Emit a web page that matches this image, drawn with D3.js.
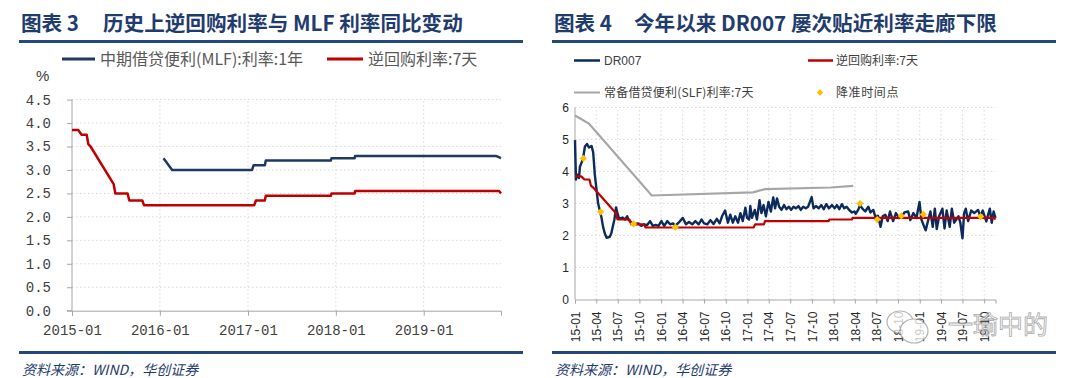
<!DOCTYPE html>
<html>
<head>
<meta charset="utf-8">
<script src="https://cdn.jsdelivr.net/npm/d3@7"></script>
<style>
  body { margin: 0; background: #fff; }
  svg { display: block; font-family: "Noto Sans CJK SC", "Noto Sans", sans-serif; }
</style>
</head>
<body>
<svg id="chart" width="1080" height="378"></svg>
<script>
// ---- data ----
const repoDates = ["2015-01-01","2015-01-27","2015-02-03","2015-02-10","2015-03-03","2015-03-10","2015-03-19","2015-06-23","2015-06-30","2015-08-20","2015-08-27","2015-10-20","2015-10-27","2017-01-27","2017-02-03","2017-03-12","2017-03-16","2017-12-11","2017-12-14","2018-03-20","2018-03-22","2019-11-10","2019-11-18"];
const repoValues = [3.85,3.85,3.80,3.75,3.75,3.55,3.50,2.70,2.50,2.50,2.35,2.35,2.25,2.25,2.35,2.35,2.45,2.45,2.50,2.50,2.55,2.55,2.50];

const mlfDates = ["2016-01-16","2016-02-21","2017-01-18","2017-01-24","2017-03-12","2017-03-16","2017-12-11","2017-12-14","2018-03-20","2018-03-22","2019-10-28","2019-11-18"];
const mlfValues = [3.25,3.00,3.00,3.10,3.10,3.20,3.20,3.25,3.25,3.30,3.30,3.25];

const slfDates = ["2015-01-01","2015-03-01","2015-11-22","2017-01-24","2017-03-16","2017-12-20","2018-03-25"];
const slfValues = [5.75,5.50,3.25,3.35,3.45,3.50,3.55];

const dr007Dates = [
  "2015-01-01","2015-01-05","2015-01-11","2015-01-18","2015-01-22","2015-01-30","2015-02-05","2015-02-12","2015-02-21","2015-03-01","2015-03-12","2015-03-19","2015-03-26","2015-04-09","2015-04-23","2015-04-30","2015-05-07","2015-05-15","2015-05-28","2015-06-04","2015-06-10","2015-06-17","2015-06-24","2015-06-30","2015-07-07","2015-07-21","2015-08-01","2015-08-10","2015-08-17","2015-08-29","2015-09-13","2015-09-26","2015-10-09","2015-10-21","2015-11-02","2015-11-15","2015-11-27","2015-12-09","2015-12-21",
  "2016-01-02","2016-01-14","2016-01-27","2016-02-08","2016-02-20","2016-03-01","2016-03-15","2016-04-02","2016-04-15","2016-04-28","2016-05-12","2016-05-25","2016-06-08","2016-06-20","2016-07-01","2016-07-15","2016-07-28","2016-08-10","2016-08-24","2016-09-05","2016-09-15","2016-09-28","2016-10-10","2016-10-20","2016-10-31","2016-11-10","2016-11-22","2016-12-02","2016-12-12","2016-12-23","2016-12-30",
  "2017-01-08","2017-01-13","2017-01-20","2017-02-01","2017-02-10","2017-02-21","2017-03-01","2017-03-10","2017-03-20","2017-03-31","2017-04-10","2017-04-20","2017-04-28","2017-05-06","2017-05-15","2017-05-25","2017-06-05","2017-06-15","2017-06-25","2017-07-05","2017-07-15","2017-07-25","2017-08-05","2017-08-15","2017-08-25","2017-09-05","2017-09-15","2017-09-30","2017-10-08","2017-10-18","2017-10-30","2017-11-10","2017-11-20","2017-12-01","2017-12-12","2017-12-25",
  "2018-01-05","2018-01-15","2018-01-25","2018-02-05","2018-02-15","2018-02-25","2018-03-10","2018-03-20","2018-03-30","2018-04-05","2018-04-15","2018-04-23","2018-05-02","2018-05-15","2018-05-28","2018-06-06","2018-06-18","2018-06-28","2018-07-08","2018-07-19","2018-07-28","2018-08-08","2018-08-18","2018-08-28","2018-09-10","2018-09-22","2018-10-05","2018-10-17","2018-10-28","2018-11-13","2018-11-22","2018-12-05","2018-12-18","2018-12-31",
  "2019-01-08","2019-01-20","2019-01-26","2019-02-15","2019-02-25","2019-03-06","2019-03-14","2019-03-24","2019-04-07","2019-04-16","2019-04-25","2019-05-08","2019-05-17","2019-05-27","2019-06-14","2019-06-22","2019-07-01","2019-07-08","2019-07-15","2019-07-25","2019-08-07","2019-08-20","2019-09-05","2019-09-15","2019-09-25","2019-10-10","2019-10-25","2019-11-02","2019-11-10","2019-11-18"
];
const dr007Values = [
  4.98,3.75,3.90,3.80,4.15,4.30,4.45,4.78,4.86,4.75,4.80,4.60,3.90,3.00,2.57,2.27,2.07,1.93,1.96,2.07,2.27,2.50,2.88,2.69,2.53,2.56,2.50,2.60,2.48,2.40,2.36,2.38,2.30,2.35,2.32,2.45,2.30,2.33,2.30,
  2.45,2.30,2.45,2.35,2.38,2.30,2.40,2.55,2.35,2.42,2.35,2.45,2.35,2.50,2.38,2.35,2.48,2.36,2.52,2.38,2.60,2.78,2.40,2.65,2.40,2.60,2.40,2.70,2.45,2.87,2.55,
  2.50,2.92,2.55,2.80,2.50,3.10,2.70,2.95,2.60,3.05,2.75,3.19,2.85,3.16,2.90,2.80,2.95,2.82,2.90,2.80,2.90,2.85,2.92,2.80,2.90,2.85,2.90,3.20,2.85,2.92,2.85,2.95,2.82,2.98,2.85,2.95,
  2.85,2.95,2.82,2.98,2.85,2.90,2.78,2.72,2.75,2.68,2.80,2.95,2.85,2.75,2.90,2.72,2.80,2.56,2.62,2.27,2.60,2.65,2.45,2.75,2.45,2.70,2.55,2.60,2.72,2.75,2.48,2.70,2.55,3.05,
  2.50,2.27,2.16,2.75,2.27,2.84,2.20,2.60,2.84,2.22,2.78,2.27,2.84,2.40,2.60,2.40,1.91,2.70,2.84,2.45,2.78,2.70,2.80,2.60,2.78,2.44,2.84,2.40,2.75,2.55
];

const rrrDates = ["2015-02-05","2015-04-20","2015-09-06","2016-03-01","2018-04-23","2018-07-05","2018-10-15","2019-01-16","2019-09-16"];
const rrrValues = [4.41,2.74,2.36,2.26,3.00,2.50,2.61,2.66,2.59];

const leftYTicks = [0,0.5,1,1.5,2,2.5,3,3.5,4,4.5];
const rightYTicks = [0,1,2,3,4,5,6];

// ---- helpers ----
const parse = d3.timeParse("%Y-%m-%d");
const zip = (ds, vs) => ds.map((d, i) => ({ date: parse(d), value: vs[i] }));

const repo = zip(repoDates, repoValues);
const mlf = zip(mlfDates, mlfValues);
const slf = zip(slfDates, slfValues);
const dr007 = zip(dr007Dates, dr007Values);
const rrr = zip(rrrDates, rrrValues);

const NAVY = "#1f3864", RED = "#c00000", GREY = "#a6a6a6", GOLD = "#ffc000", RULE = "#24497a";
const svg = d3.select("#chart");
svg.append("rect").attr("width", 1080).attr("height", 378).attr("fill", "#fff");

function frame(x0, x1, num, title) {
  const t = svg.append("text").attr("y", 31).attr("fill", "#1f3c6e")
    .attr("font-size", 20.6).attr("font-weight", 700);
  t.append("tspan").attr("x", x0 + 2).text("图表 " + num);
  t.append("tspan").attr("x", x0 + (num === "3" ? 84 : 82)).text(title);
  svg.append("line").attr("x1", x0).attr("x2", x1).attr("y1", 41.5).attr("y2", 41.5)
    .attr("stroke", RULE).attr("stroke-width", 3);
  svg.append("line").attr("x1", x0).attr("x2", x1).attr("y1", 352.5).attr("y2", 352.5)
    .attr("stroke", RULE).attr("stroke-width", 3);
  svg.append("text").attr("x", x0 + 3).attr("y", 375).attr("fill", "#1f3c6e")
    .attr("font-size", 14).attr("font-style", "italic").text("资料来源：WIND，华创证券");
}

// ---- left chart ----
(function () {
  frame(19, 523, "3", "历史上逆回购利率与 MLF 利率同比变动");

  const x = d3.scaleTime().domain([parse("2015-01-01"), parse("2019-11-18")]).range([72, 501]);
  const y = d3.scaleLinear().domain([0, 4.5]).range([310.7, 99.6]);
  const g = svg.append("g");

  // grid
  g.selectAll(".hg").data(leftYTicks.filter(d => d > 0)).join("line")
    .attr("x1", x.range()[0]).attr("x2", x.range()[1])
    .attr("y1", d => y(d)).attr("y2", d => y(d))
    .attr("stroke", "#d9d9d9").attr("stroke-dasharray", "1.5,2.5");
  const years = x.ticks(d3.timeYear.every(1));
  g.selectAll(".vg").data(years.slice(1)).join("line")
    .attr("x1", d => x(d)).attr("x2", d => x(d))
    .attr("y1", y(0)).attr("y2", y(4.5))
    .attr("stroke", "#d9d9d9").attr("stroke-dasharray", "1.5,2.5");

  const ya = g.append("g").attr("transform", `translate(${x.range()[0]},0)`)
    .call(d3.axisLeft(y).tickValues(leftYTicks).tickFormat(d3.format(".1f")).tickSize(5).tickPadding(16));
  const xa = g.append("g").attr("transform", `translate(0,${y(0)})`)
    .call(d3.axisBottom(x).tickValues(years).tickFormat(d3.timeFormat("%Y-%m")).tickSize(5).tickPadding(9));
  [ya, xa].forEach(a => {
    a.select(".domain").attr("stroke", GREY);
    a.selectAll(".tick line").attr("stroke", GREY);
    a.selectAll("text").attr("fill", "#404040").attr("font-family", "Liberation Mono")
      .attr("font-size", 14);
  });
  ya.select(".domain").attr("d", `M-5,${y(0)}H0V${y(4.5)}`);

  svg.append("text").attr("x", 36).attr("y", 81).attr("font-size", 15)
    .attr("font-family", "Liberation Sans").attr("fill", "#404040").text("%");

  const line = d3.line().x(d => x(d.date)).y(d => y(d.value));
  g.append("path").datum(repo).attr("fill", "none").attr("stroke", RED)
    .attr("stroke-width", 2.5).attr("stroke-linejoin", "round").attr("d", line);
  g.append("path").datum(mlf).attr("fill", "none").attr("stroke", NAVY)
    .attr("stroke-width", 2.5).attr("stroke-linejoin", "round").attr("d", line);

  // legend
  const lg = svg.append("g").attr("font-size", 16).attr("fill", "#595959");
  lg.append("line").attr("x1", 62).attr("x2", 95).attr("y1", 59).attr("y2", 59)
    .attr("stroke", NAVY).attr("stroke-width", 3);
  lg.append("text").attr("x", 100).attr("y", 65).text("中期借贷便利(MLF):利率:1年");
  lg.append("line").attr("x1", 327).attr("x2", 363).attr("y1", 59).attr("y2", 59)
    .attr("stroke", RED).attr("stroke-width", 3);
  lg.append("text").attr("x", 368).attr("y", 65).text("逆回购利率:7天");
})();

// ---- right chart ----
(function () {
  frame(552, 1056, "4", "今年以来 DR007 屡次贴近利率走廊下限");

  const x = d3.scaleTime().domain([parse("2015-01-01"), parse("2019-11-18")]).range([575, 995.5]);
  const y = d3.scaleLinear().domain([0, 6]).range([299.5, 107.5]);
  const g = svg.append("g");

  const quarters = d3.timeMonth.every(3).range(parse("2015-01-01"), parse("2019-11-18"));
  g.selectAll(".hg").data(rightYTicks.filter(d => d > 0)).join("line")
    .attr("x1", x.range()[0]).attr("x2", x.range()[1])
    .attr("y1", d => y(d)).attr("y2", d => y(d))
    .attr("stroke", "#d9d9d9").attr("stroke-dasharray", "1.5,2.5");
  g.selectAll(".vg").data(quarters.slice(1)).join("line")
    .attr("x1", d => x(d)).attr("x2", d => x(d))
    .attr("y1", y(0)).attr("y2", y(6))
    .attr("stroke", "#d9d9d9").attr("stroke-dasharray", "1.5,2.5");

  const ya = g.append("g").attr("transform", `translate(${x.range()[0]},0)`)
    .call(d3.axisLeft(y).tickValues(rightYTicks).tickFormat(d3.format("d")).tickSize(0).tickPadding(6));
  const xa = g.append("g").attr("transform", `translate(0,${y(0)})`)
    .call(d3.axisBottom(x).tickValues(quarters).tickFormat(d3.timeFormat("%y-%m")).tickSize(4));
  [ya, xa].forEach(a => {
    a.select(".domain").attr("stroke", GREY);
    a.selectAll(".tick line").attr("stroke", GREY);
    a.selectAll("text").attr("fill", "#262626").attr("font-family", "Liberation Sans")
      .attr("font-size", 12);
  });
  ya.select(".domain").attr("d", `M0,${y(0)}V${y(6)}`);
  xa.selectAll("text").attr("transform", "rotate(-90)")
    .attr("x", -12).attr("y", 0).attr("dy", "0.35em").attr("text-anchor", "end");

  const line = d3.line().x(d => x(d.date)).y(d => y(d.value));
  g.append("path").datum(slf).attr("fill", "none").attr("stroke", GREY)
    .attr("stroke-width", 2.2).attr("d", line);
  g.append("path").datum(dr007).attr("fill", "none").attr("stroke", "#0c2a5c")
    .attr("stroke-width", 2.4).attr("stroke-linejoin", "round").attr("d", line);
  g.append("path").datum(repo).attr("fill", "none").attr("stroke", RED)
    .attr("stroke-width", 2.2).attr("stroke-linejoin", "round").attr("d", line);

  const diamond = d3.symbol().type(d3.symbolSquare).size(26);
  g.selectAll(".rrr").data(rrr).join("path")
    .attr("d", diamond)
    .attr("transform", d => `translate(${x(d.date)},${y(d.value)}) rotate(45)`)
    .attr("fill", GOLD);

  // legend
  const lg = svg.append("g").attr("font-size", 12).attr("fill", "#404040");
  lg.append("line").attr("x1", 574).attr("x2", 600).attr("y1", 60.5).attr("y2", 60.5)
    .attr("stroke", "#0c2a5c").attr("stroke-width", 2.5);
  lg.append("text").attr("x", 604).attr("y", 65).attr("font-family", "Liberation Sans").text("DR007");
  lg.append("line").attr("x1", 808).attr("x2", 833).attr("y1", 60.5).attr("y2", 60.5)
    .attr("stroke", RED).attr("stroke-width", 2.5);
  lg.append("text").attr("x", 836).attr("y", 65).text("逆回购利率:7天");
  lg.append("line").attr("x1", 574).attr("x2", 600).attr("y1", 92.5).attr("y2", 92.5)
    .attr("stroke", GREY).attr("stroke-width", 2);
  lg.append("text").attr("x", 604).attr("y", 97).attr("letter-spacing", 0.2).text("常备借贷便利(SLF)利率:7天");
  lg.append("path").attr("d", d3.symbol().type(d3.symbolSquare).size(22))
    .attr("transform", "translate(820,92.5) rotate(45)").attr("fill", GOLD);
  lg.append("text").attr("x", 836).attr("y", 97).attr("letter-spacing", 0.6).text("降准时间点");

  // watermark
  const wm = svg.append("g").attr("opacity", 0.75);
  wm.append("ellipse").attr("cx", 900).attr("cy", 322).attr("rx", 13).attr("ry", 11)
    .attr("fill", "#fff").attr("stroke", "#9a9a9a").attr("stroke-width", 1.2);
  wm.append("ellipse").attr("cx", 914).attr("cy", 331).attr("rx", 14).attr("ry", 12)
    .attr("fill", "#fff").attr("stroke", "#9a9a9a").attr("stroke-width", 1.2);
  wm.append("text").attr("x", 948).attr("y", 334).attr("font-size", 25)
    .attr("fill", "#fff").attr("stroke", "#8c8c8c").attr("stroke-width", 0.8).text("一瑜中的");
})();
</script>
</body>
</html>
